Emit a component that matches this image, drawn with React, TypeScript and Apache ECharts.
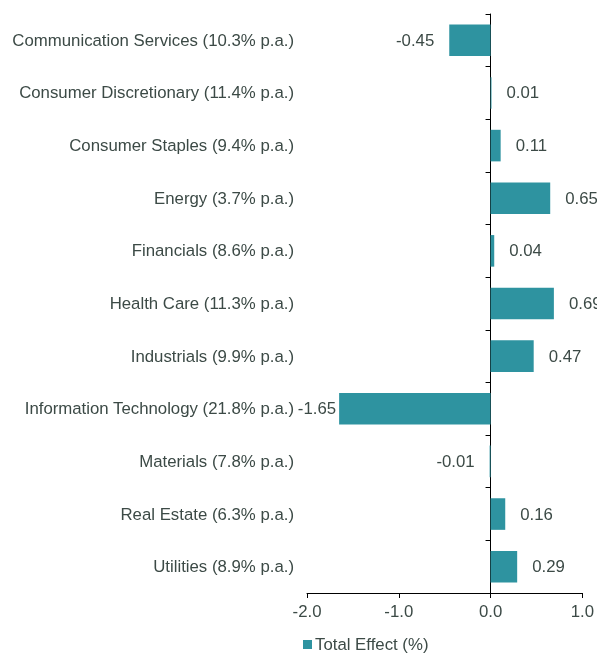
import React, { useEffect, useRef } from "react";
import * as echarts from "echarts";

const categories = [
  "Communication Services (10.3% p.a.)",
  "Consumer Discretionary (11.4% p.a.)",
  "Consumer Staples (9.4% p.a.)",
  "Energy (3.7% p.a.)",
  "Financials (8.6% p.a.)",
  "Health Care (11.3% p.a.)",
  "Industrials (9.9% p.a.)",
  "Information Technology (21.8% p.a.)",
  "Materials (7.8% p.a.)",
  "Real Estate (6.3% p.a.)",
  "Utilities (8.9% p.a.)",
];
const totalEffect = [-0.45, 0.01, 0.11, 0.65, 0.04, 0.69, 0.47, -1.65, -0.01, 0.16, 0.29];
const seriesName = "Total Effect (%)";

const TEXT = "#3C4A46";
const BAR = "#2E93A0";
const FONT = "Liberation Sans, Arial, sans-serif";
const FS = 16.8;

export default function App() {
  const ref = useRef<HTMLDivElement>(null);
  useEffect(() => {
    if (!ref.current) return;
    const chart = echarts.init(ref.current, null, { renderer: "svg" });
    const minVal = Math.min(...totalEffect);
    chart.setOption({
      animation: false,
      textStyle: { fontFamily: FONT, color: TEXT },
      grid: { left: 307, right: 13, top: 14, bottom: 61, containLabel: false },
      legend: {
        left: 298,
        top: 631,
        itemWidth: 9,
        itemHeight: 9,
        icon: "rect",
        itemGap: 4,
        textStyle: { fontFamily: FONT, fontSize: FS, color: TEXT, padding: [0, 0, 0, -2] },
        data: [seriesName],
      },
      xAxis: {
        type: "value",
        min: -2,
        max: 1,
        interval: 1,
        splitLine: { show: false },
        axisLine: { show: true, onZero: false, lineStyle: { color: "#000", width: 1 } },
        axisTick: { show: true, length: 5, lineStyle: { color: "#000" } },
        axisLabel: {
          fontFamily: FONT,
          fontSize: FS,
          color: TEXT,
          margin: 10,
          formatter: (v: number) => v.toFixed(1),
        },
      },
      yAxis: [
        {
          type: "category",
          data: categories,
          inverse: true,
          position: "left",
          axisLine: { show: false, onZero: false },
          axisTick: { show: false },
          axisLabel: { fontFamily: FONT, fontSize: FS, color: TEXT, margin: 13 },
        },
        {
          type: "category",
          data: categories,
          inverse: true,
          position: "left",
          axisLine: { show: true, onZero: true, lineStyle: { color: "#000", width: 1 } },
          axisTick: { show: true, length: 5, inside: false, lineStyle: { color: "#000" } },
          axisLabel: { show: false },
        },
      ],
      series: [
        {
          name: seriesName,
          type: "bar",
          yAxisIndex: 0,
          data: totalEffect.map((v) => ({
            value: v,
            label: { position: v < 0 ? "left" : "right", distance: v === minVal ? 3 : 15 },
          })),
          barCategoryGap: "40%",
          itemStyle: { color: BAR },
          label: {
            show: true,
            fontFamily: FONT,
            fontSize: FS,
            color: TEXT,
            formatter: (p: any) => p.value.toFixed(2),
          },
        },
      ],
    });
    return () => chart.dispose();
  }, []);
  return (
    <div
      ref={ref}
      style={{ position: "fixed", left: 0, top: 0, width: 597, height: 654 }}
    />
  );
}
